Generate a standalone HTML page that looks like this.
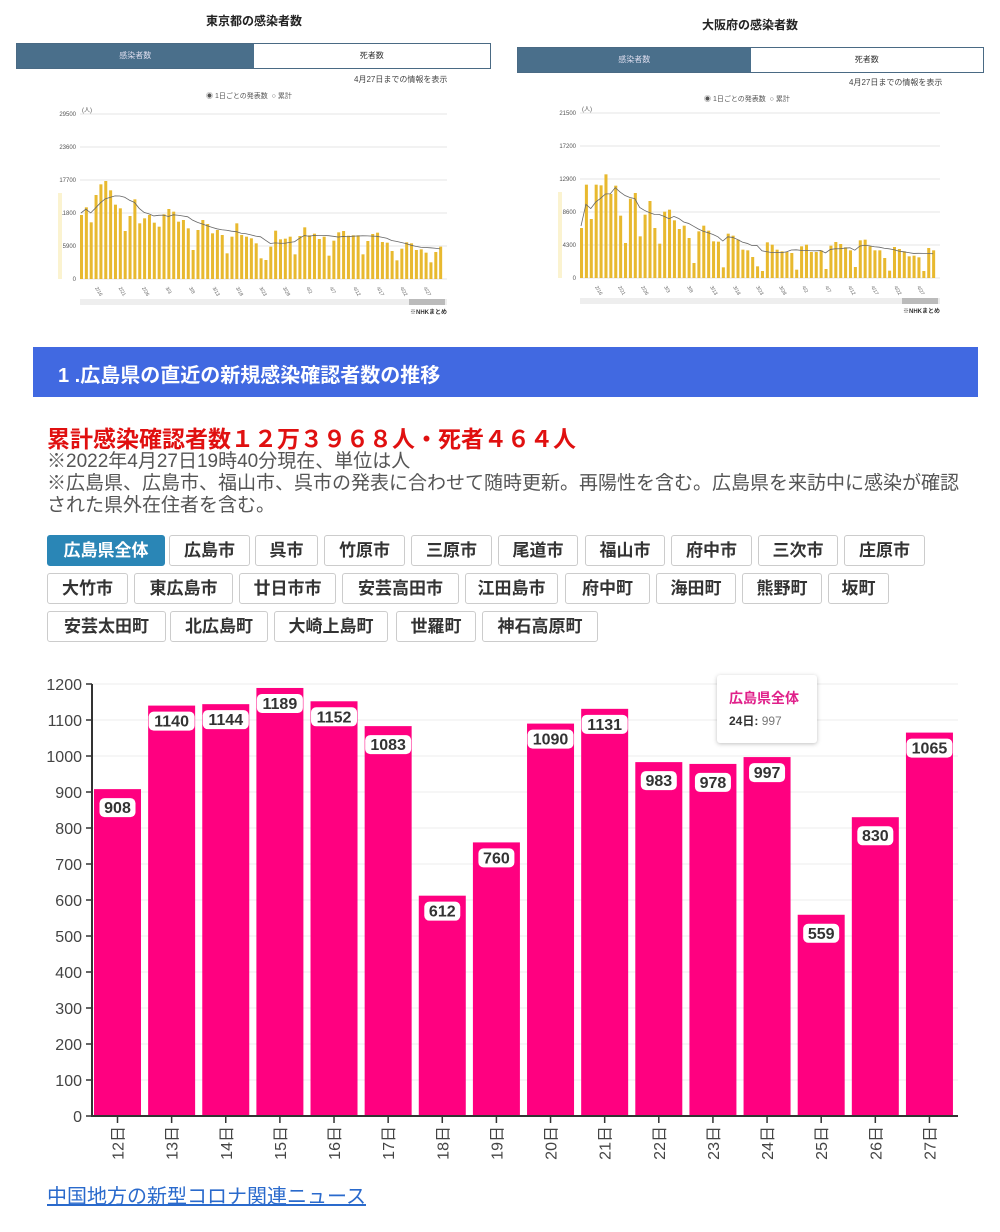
<!DOCTYPE html>
<html><head><meta charset="utf-8">
<style>
body{margin:0;width:1000px;height:1232px;background:#fff;position:relative;overflow:hidden;font-family:"Liberation Sans","Noto Sans CJK JP",sans-serif;}
.a{position:absolute;white-space:nowrap;}
.btn{position:absolute;height:31px;border:1px solid #ccc;border-radius:3px;box-sizing:border-box;font-weight:bold;font-size:17px;color:#333;text-align:center;line-height:29px;background:#fff;}
.sel{background:#2a86b6;color:#fff;border-color:#2a86b6;}
</style></head><body>
<div class="a" style="left:0;width:508px;top:12px;text-align:center;font-size:12px;font-weight:bold;color:#222">東京都の感染者数</div>
<div class="a" style="left:16px;top:43px;width:475px;height:26px;border:1px solid #4a6a84;box-sizing:border-box;font-size:8px;">
<div style="position:absolute;left:0;top:0;width:50%;height:100%;background:#4a6f8b;color:#dde;text-align:center;line-height:24px">感染者数</div>
<div style="position:absolute;left:50%;top:0;width:50%;height:100%;text-align:center;line-height:24px;color:#333">死者数</div></div>
<div class="a" style="left:354px;top:74px;font-size:8px;color:#444">4月27日までの情報を表示</div>
<div class="a" style="left:206px;top:91px;font-size:7px;color:#555">◉ 1日ごとの発表数 &nbsp;○ 累計</div>

<div class="a" style="left:500px;width:500px;top:16px;text-align:center;font-size:12px;font-weight:bold;color:#222">大阪府の感染者数</div>
<div class="a" style="left:517px;top:47px;width:467px;height:26px;border:1px solid #4a6a84;box-sizing:border-box;font-size:8px;">
<div style="position:absolute;left:0;top:0;width:50%;height:100%;background:#4a6f8b;color:#dde;text-align:center;line-height:24px">感染者数</div>
<div style="position:absolute;left:50%;top:0;width:50%;height:100%;text-align:center;line-height:24px;color:#333">死者数</div></div>
<div class="a" style="left:849px;top:77px;font-size:8px;color:#444">4月27日までの情報を表示</div>
<div class="a" style="left:704px;top:94px;font-size:7px;color:#555">◉ 1日ごとの発表数 &nbsp;○ 累計</div>

<svg id="topc" class="a" style="left:0;top:0" width="1000" height="330"></svg>

<div class="a" style="left:33px;top:347px;width:945px;height:50px;background:#4169e1;"></div>
<div class="a" style="left:58px;top:359px;font-size:20px;font-weight:bold;color:#fff">1 .広島県の直近の新規感染確認者数の推移</div>
<div class="a" style="left:47px;top:420px;font-size:23px;font-weight:bold;color:#e01010">累計感染確認者数１２万３９６８人・死者４６４人</div>
<div class="a" style="left:47px;top:451px;font-size:19px;color:#555;line-height:22px;white-space:normal;width:930px">※2022年4月27日19時40分現在、単位は人<br>※広島県、広島市、福山市、呉市の発表に合わせて随時更新。再陽性を含む。広島県を来訪中に感染が確認された県外在住者を含む。</div>

<div id="btns"></div>

<svg id="mainc" class="a" style="left:0;top:650px" width="1000" height="530"></svg>
<div class="a" style="left:717px;top:675px;width:100px;height:68px;background:#fff;box-shadow:0 1px 4px rgba(0,0,0,.25);border-radius:3px"></div>
<div class="a" style="left:729px;top:688px;font-size:14px;font-weight:bold;color:#e0208a">広島県全体</div>
<div class="a" style="left:729px;top:712px;font-size:12px;color:#777"><b style="color:#333">24日:</b> 997</div>

<div class="a" style="left:47px;top:1180px;font-size:20px;color:#2a6acc;text-decoration:underline">中国地方の新型コロナ関連ニュース</div>

<script>
(function(){
var NS="http://www.w3.org/2000/svg";
function el(p,t,a,txt){var e=document.createElementNS(NS,t);for(var k in a)e.setAttribute(k,a[k]);if(txt!=null)e.textContent=txt;p.appendChild(e);return e;}
var rows=[[535,[[47,165,'広島県全体'],[169,250,'広島市'],[255,318,'呉市'],[324,405,'竹原市'],[411,492,'三原市'],[498,578,'尾道市'],[585,665,'福山市'],[671,752,'府中市'],[758,838,'三次市'],[844,925,'庄原市']]],
[573,[[47,128,'大竹市'],[134,233,'東広島市'],[239,336,'廿日市市'],[342,459,'安芸高田市'],[465,558,'江田島市'],[565,650,'府中町'],[656,736,'海田町'],[742,822,'熊野町'],[828,889,'坂町']]],
[611,[[47,166,'安芸太田町'],[170,268,'北広島町'],[274,388,'大崎上島町'],[396,476,'世羅町'],[482,598,'神石高原町']]]];
var bh='';rows.forEach(function(r,ri){r[1].forEach(function(b,i){bh+='<div class="btn'+(ri==0&&i==0?' sel':'')+'" style="left:'+b[0]+'px;top:'+r[0]+'px;width:'+(b[1]-b[0])+'px">'+b[2]+'</div>';});});
document.getElementById('btns').innerHTML=bh;
var tp=document.getElementById('topc');
function mini(x0,x1,y0,ticks,zTops,off){
 var pxPer=33;
 ticks.forEach(function(t,i){var y=y0-i*pxPer;el(tp,'line',{x1:x0,x2:x1,y1:y,y2:y,stroke:'#e6e6e6','stroke-width':1});
  el(tp,'text',{x:x0-4,y:y+2,'font-size':6,fill:'#555','text-anchor':'end'},t);});
 el(tp,'text',{x:x0+2,y:y0-5*pxPer-2,'font-size':6,fill:'#555'},'(人)');
 el(tp,'rect',{x:x0-22,y:y0-86,width:4,height:86,fill:'#fbf3d0'});
 var n=zTops.length,pitch=(x1-x0-3)/n,pts=[];
 var hs=zTops.map(function(z){return (off-z)/3;});
 hs.forEach(function(h,i){var x=x0+i*pitch;el(tp,'rect',{x:x,y:y0-h,width:pitch*0.62,height:h,fill:'#e8b92f'});
  var s=0,c=0;for(var j=Math.max(0,i-6);j<=i;j++){s+=hs[j];c++;}pts.push((x+1)+','+(y0-s/c-2));});
 el(tp,'polyline',{points:pts.join(' '),fill:'none',stroke:'#666','stroke-width':0.8});
 var labs=['2/16','2/21','2/26','3/3','3/8','3/13','3/18','3/23','3/28','4/2','4/7','4/12','4/17','4/22','4/27'];
 labs.forEach(function(l,i){var x=x0+15+i*(x1-x0-15)/15;el(tp,'text',{x:x,y:y0+9,'font-size':5,fill:'#666',transform:'rotate(60 '+x+' '+(y0+9)+')'},l);});
 el(tp,'rect',{x:x0,y:y0+20,width:x1-x0,height:6,fill:'#eee'});
 el(tp,'rect',{x:x1-38,y:y0+20,width:36,height:6,fill:'#bbb'});
 el(tp,'text',{x:x1,y:y0+35,'font-size':6,'font-weight':'bold',fill:'#333','text-anchor':'end'},'※NHKまとめ');
}
mini(80,447,279,['0','5900','11800','17700','23600','29500'],
[645,622,667,585,553,543,571,614,625,693,648,598,670,655,645,668,680,643,627,635,665,660,685,750,690,660,672,700,690,705,760,710,670,705,710,715,730,775,780,740,692,718,716,710,763,708,682,706,701,717,710,767,722,697,693,707,706,706,763,723,702,698,726,728,753,781,746,727,730,750,748,758,787,756,740],837);
mini(580,940,278,['0','4300','8600','12900','17200','21500'],
[685,555,658,555,557,524,583,558,648,730,597,580,710,645,604,685,732,636,630,662,688,678,715,790,695,678,693,725,726,803,702,708,720,750,752,772,800,814,728,735,750,755,757,760,810,740,735,757,757,752,808,738,727,733,743,752,802,722,720,740,752,752,775,813,742,748,755,770,768,773,814,745,752],835);
var m=document.getElementById('mainc');
var Y0=1116-650,sc=0.36;
for(var v=0;v<=1200;v+=100){var y=Y0-v*sc;
 if(v>0)el(m,'line',{x1:92,x2:958,y1:y,y2:y,stroke:'#ececec'});
 el(m,'line',{x1:86,x2:92,y1:y,y2:y,stroke:'#333','stroke-width':1.5});
 el(m,'text',{x:82,y:y+6,'font-size':16,fill:'#444','text-anchor':'end'},v);}
var vals=[908,1140,1144,1189,1152,1083,612,760,1090,1131,983,978,997,559,830,1065];
vals.forEach(function(v,i){var x=94+i*54.13,h=v*sc;
 el(m,'rect',{x:x,y:Y0-h,width:47,height:h,fill:'#ff0080'});
 var s=String(v),w=s.length*10+6,cx=x+23.5,ty=Y0-h+6;
 if(i==5||i==0||i>=10&&i!=12&&i!=15)ty+=3;
 el(m,'rect',{x:cx-w/2,y:ty,width:w,height:19,rx:5,fill:'#fff'});
 el(m,'text',{x:cx,y:ty+15,'font-size':16,'font-weight':'bold',fill:'#333','text-anchor':'middle'},s);
 el(m,'line',{x1:cx,x2:cx,y1:Y0,y2:Y0+7,stroke:'#333','stroke-width':1.5});
 el(m,'text',{x:0,y:0,'font-size':16,fill:'#444','text-anchor':'end',transform:'translate('+(cx+6)+','+(Y0+10)+') rotate(-90)'},(12+i)+'日');
});
el(m,'line',{x1:92,x2:92,y1:Y0-432,y2:Y0,stroke:'#333','stroke-width':2});
el(m,'line',{x1:91,x2:958,y1:Y0,y2:Y0,stroke:'#333','stroke-width':2});
})();
</script>
</body></html>
